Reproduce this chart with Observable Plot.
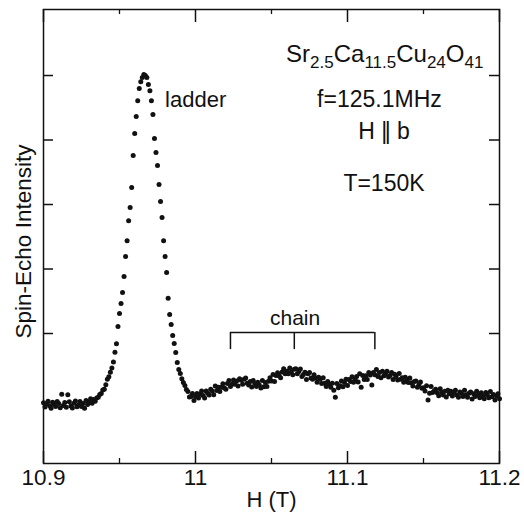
<!DOCTYPE html>
<html><head><meta charset="utf-8">
<script src="https://cdn.jsdelivr.net/npm/d3@7"></script>
<script src="https://cdn.jsdelivr.net/npm/@observablehq/plot@0.6"></script>
<style>
html,body{margin:0;padding:0;background:#fff;}
#chart svg{font-family:"Liberation Sans",Arial,Helvetica,sans-serif;}
</style></head><body><div id="chart"></div>
<script>
// Magnetic field H (T)
const field = [
10.900,10.901,10.902,10.903,10.904,10.905,10.906,10.907,10.908,10.909,
10.910,10.911,10.912,10.913,10.914,10.915,10.916,10.917,10.918,10.919,
10.920,10.921,10.922,10.923,10.924,10.925,10.926,10.927,10.928,10.929,
10.930,10.931,10.932,10.933,10.934,10.935,10.936,10.937,10.938,10.939,
10.940,10.941,10.942,10.943,10.944,10.945,10.946,10.947,10.948,10.949,
10.950,10.951,10.952,10.953,10.954,10.955,10.956,10.957,10.958,10.959,
10.960,10.961,10.962,10.963,10.964,10.965,10.966,10.967,10.968,10.969,
10.970,10.971,10.972,10.973,10.974,10.975,10.976,10.977,10.978,10.979,
10.980,10.981,10.982,10.983,10.984,10.985,10.986,10.987,10.988,10.989,
10.990,10.991,10.992,10.993,10.994,10.995,10.996,10.997,10.998,10.999,
11.000,11.001,11.002,11.003,11.004,11.005,11.006,11.007,11.008,11.009,
11.010,11.011,11.012,11.013,11.014,11.015,11.016,11.017,11.018,11.019,
11.020,11.021,11.022,11.023,11.024,11.025,11.026,11.027,11.028,11.029,
11.030,11.031,11.032,11.033,11.034,11.035,11.036,11.037,11.038,11.039,
11.040,11.041,11.042,11.043,11.044,11.045,11.046,11.047,11.048,11.049,
11.050,11.051,11.052,11.053,11.054,11.055,11.056,11.057,11.058,11.059,
11.060,11.061,11.062,11.063,11.064,11.065,11.066,11.067,11.068,11.069,
11.070,11.071,11.072,11.073,11.074,11.075,11.076,11.077,11.078,11.079,
11.080,11.081,11.082,11.083,11.084,11.085,11.086,11.087,11.088,11.089,
11.090,11.091,11.092,11.093,11.094,11.095,11.096,11.097,11.098,11.099,
11.100,11.101,11.102,11.103,11.104,11.105,11.106,11.107,11.108,11.109,
11.110,11.111,11.112,11.113,11.114,11.115,11.116,11.117,11.118,11.119,
11.120,11.121,11.122,11.123,11.124,11.125,11.126,11.127,11.128,11.129,
11.130,11.131,11.132,11.133,11.134,11.135,11.136,11.137,11.138,11.139,
11.140,11.141,11.142,11.143,11.144,11.145,11.146,11.147,11.148,11.149,
11.150,11.151,11.152,11.153,11.154,11.155,11.156,11.157,11.158,11.159,
11.160,11.161,11.162,11.163,11.164,11.165,11.166,11.167,11.168,11.169,
11.170,11.171,11.172,11.173,11.174,11.175,11.176,11.177,11.178,11.179,
11.180,11.181,11.182,11.183,11.184,11.185,11.186,11.187,11.188,11.189,
11.190,11.191,11.192,11.193,11.194,11.195,11.196,11.197,11.198,11.199,
11.200];

// Spin-echo intensity (arbitrary units, ladder peak ~1)
const intensity = [
-0.015,-0.028,-0.018,-0.010,-0.024,-0.032,-0.013,-0.020,-0.026,-0.011,
-0.017,-0.030,0.012,-0.023,-0.014,-0.029,0.010,-0.012,-0.025,-0.031,
-0.016,-0.009,-0.027,-0.022,-0.011,-0.026,-0.017,-0.032,-0.008,-0.020,
-0.012,-0.002,-0.016,-0.005,-0.010,0.000,0.002,0.011,0.014,0.025,
0.027,0.041,0.058,0.066,0.080,0.093,0.112,0.142,0.168,0.222,
0.262,0.293,0.327,0.377,0.439,0.488,0.550,0.591,0.653,0.752,
0.820,0.873,0.922,0.960,0.981,0.994,1.003,1.000,0.994,0.972,
0.953,0.922,0.879,0.805,0.761,0.721,0.662,0.609,0.560,0.488,
0.439,0.389,0.309,0.259,0.228,0.194,0.169,0.141,0.110,0.088,
0.076,0.060,0.048,0.039,0.026,0.020,0.003,0.005,0.014,-0.008,
0.005,0.014,0.000,0.012,0.022,0.008,0.000,0.022,0.015,0.009,
0.027,0.022,0.010,0.037,0.023,0.033,0.020,0.033,0.044,0.031,
0.027,0.045,0.054,0.036,0.043,0.056,0.043,0.053,0.037,0.060,
0.055,0.043,0.058,0.062,0.046,0.040,0.051,0.034,0.054,0.045,
0.036,0.049,0.040,0.031,0.054,0.035,0.048,0.036,0.052,0.063,
0.053,0.073,0.051,0.070,0.078,0.069,0.063,0.081,0.091,0.075,
0.083,0.075,0.093,0.081,0.072,0.089,0.091,0.075,0.082,0.090,
0.067,0.073,0.080,0.057,0.075,0.079,0.062,0.058,0.072,0.062,
0.049,0.064,0.058,0.045,0.063,0.046,0.036,0.051,0.042,0.033,
0.046,0.024,0.002,0.045,0.032,0.038,0.053,0.035,0.048,0.058,
0.039,0.057,0.051,0.066,0.049,0.058,0.067,0.050,0.075,0.033,
0.070,0.057,0.069,0.057,0.079,0.071,0.040,0.079,0.072,0.088,
0.067,0.079,0.063,0.083,0.069,0.075,0.083,0.065,0.070,0.079,
0.057,0.074,0.067,0.056,0.076,0.058,0.063,0.049,0.064,0.057,
0.048,0.062,0.047,0.037,0.051,0.053,0.033,0.041,0.050,0.030,
0.032,0.022,0.038,-0.006,0.015,0.036,0.017,0.022,0.027,0.016,
0.007,0.029,0.018,0.009,0.021,0.003,0.024,0.013,0.021,0.006,
0.017,0.024,0.009,0.002,0.019,0.014,0.005,0.024,0.010,0.002,
0.015,0.019,-0.003,0.013,0.005,0.021,0.009,0.001,0.016,0.007,
-0.002,0.017,0.009,0.001,0.020,0.004,0.011,-0.006,0.007,0.013,
-0.002];

const xTicks = [10.9, 11, 11.1, 11.2];
const xMinorTicks = [10.95, 11.05, 11.15];
const yTicks = [0.2, 0.4, 0.6, 0.8, 1.0];
const chainMarks = [11.023, 11.065, 11.118];
const formulaParts = [["Sr",0],["2.5",1],["Ca",0],["11.5",1],["Cu",0],["24",1],["O",0],["41",1]];
const formulaText = formulaParts.map(p => p[0]).join("");

const data = field.map((f, i) => ({field: f, intensity: intensity[i]}));

const W = 524, H = 519, mt = 9, mb = 56, ml = 43, mr = 25;
const ih = H - mt - mb, iw = W - ml - mr;
const ink = "#111";
const font = "Liberation Sans, Arial, Helvetica, sans-serif";

const plot = Plot.plot({
  width: W, height: H,
  marginTop: mt, marginBottom: mb, marginLeft: ml, marginRight: mr,
  style: {fontFamily: font, background: "white", color: ink},
  x: {domain: [10.9, 11.2]},
  y: {domain: [-0.2031, 1.2047], axis: null},
  marks: [
    Plot.frame({stroke: ink, strokeWidth: 1.5}),
    // inward ticks
    Plot.ruleX(xTicks, {x: d => d, insetTop: ih - 12, stroke: ink, strokeWidth: 1.5}),
    Plot.ruleX(xTicks, {x: d => d, insetBottom: ih - 13, stroke: ink, strokeWidth: 1.5}),
    Plot.ruleX(xMinorTicks, {x: d => d, insetTop: ih - 5, stroke: ink, strokeWidth: 1.3}),
    Plot.ruleX(xMinorTicks, {x: d => d, insetBottom: ih - 5, stroke: ink, strokeWidth: 1.3}),
    Plot.ruleY(yTicks, {y: d => d, insetRight: iw - 10, stroke: ink, strokeWidth: 1.5}),
    Plot.ruleY(yTicks, {y: d => d, insetLeft: iw - 10, stroke: ink, strokeWidth: 1.5}),
    Plot.axisX(xTicks, {tickSize: 0, tickPadding: 6, fontSize: 22.5, label: null, tickFormat: d => String(d)}),
    Plot.text(["H (T)"], {frameAnchor: "bottom", dy: 43, lineAnchor: "bottom", fontSize: 22, fill: ink}),
    Plot.text(["Spin-Echo Intensity"], {frameAnchor: "left", textAnchor: "middle", rotate: -90, dx: -13, dy: 5, lineAnchor: "bottom", fontSize: 22.5, fill: ink}),
    // data
    Plot.dot(data, {x: "field", y: "intensity", r: 2.5, fill: ink, stroke: null}),
    // chain bracket
    Plot.ruleY([0.203], {x1: chainMarks[0], x2: chainMarks[2], stroke: ink, strokeWidth: 1.5}),
    Plot.ruleX(chainMarks, {x: d => d, y1: 0.150, y2: 0.203, stroke: ink, strokeWidth: 1.5}),
    // annotations
    Plot.text(["ladder"], {x: 10.980, y: 0.901, textAnchor: "start", lineAnchor: "bottom", fontSize: 22, fill: ink}),
    Plot.text(["chain"], {x: 11.0655, y: 0.225, lineAnchor: "bottom", fontSize: 21, fill: ink}),
    Plot.text([formulaText], {x: 11.1245, y: 1.043, lineAnchor: "bottom", fontSize: 24, fill: ink}),
    Plot.text(["f=125.1MHz"], {x: 11.121, y: 0.901, lineAnchor: "bottom", fontSize: 23, fill: ink}),
    Plot.text(["H || b"], {x: 11.124, y: 0.802, lineAnchor: "bottom", fontSize: 23, fill: ink}),
    Plot.text(["T=150K"], {x: 11.124, y: 0.643, lineAnchor: "bottom", fontSize: 23, fill: ink})
  ]
});

document.getElementById("chart").appendChild(plot);

// subscripts for the chemical formula
d3.select(plot).selectAll("text").filter(function() { return this.textContent === formulaText; })
  .each(function() {
    const t = d3.select(this);
    t.text(null);
    let prevSub = 0;
    formulaParts.forEach(([s, sub]) => {
      const sp = t.append("tspan").text(s);
      if (sub) sp.attr("font-size", 17);
      const shift = (sub ? 6 : 0) - (prevSub ? 6 : 0);
      if (shift) sp.attr("dy", shift);
      prevSub = sub;
    });
  });
// tighten the parallel bars
d3.select(plot).selectAll("text").filter(function() { return this.textContent === "H || b"; })
  .each(function() {
    const t = d3.select(this);
    t.text(null);
    t.append("tspan").text("H ");
    t.append("tspan").attr("letter-spacing", -2.5).text("||");
    t.append("tspan").attr("dx", 2.5).text(" b");
  });
</script></body></html>
